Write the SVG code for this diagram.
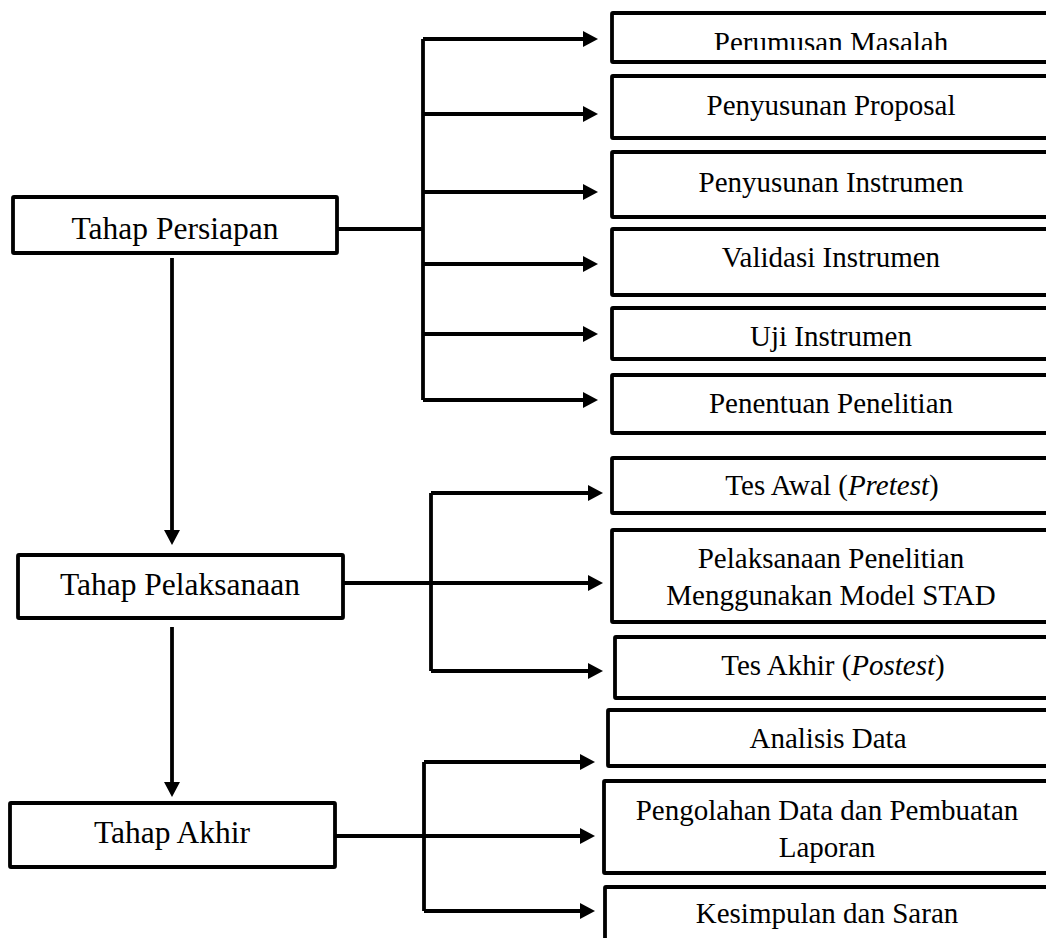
<svg xmlns="http://www.w3.org/2000/svg" width="1046" height="938" viewBox="0 0 1046 938">
<style>
.box{fill:#fff;stroke:#000;stroke-width:3.8}
.ln{fill:none;stroke:#000;stroke-width:3.8}
.arr{fill:none;stroke:#000;stroke-width:3.8;marker-end:url(#ah)}
.tl{font-family:"Liberation Serif","Times New Roman",serif;font-size:31.5px;fill:#000;text-anchor:middle}
.tr{font-family:"Liberation Serif","Times New Roman",serif;font-size:29px;fill:#000;text-anchor:middle}
</style>
<defs>
<marker id="ah" markerUnits="userSpaceOnUse" markerWidth="17" markerHeight="17" refX="1" refY="8" orient="auto">
<path d="M0,0 L15,8 L0,16 z" fill="#000"/>
</marker>
<clipPath id="c1"><rect x="612" y="13" width="440" height="37"/></clipPath>
</defs>
<rect width="1046" height="938" fill="#fff"/>
<g id="connectors">
<line class="arr" x1="172" y1="258" x2="172" y2="531"/>
<line class="arr" x1="172" y1="627" x2="172" y2="783"/>
<polyline class="ln" points="337,229 423,229"/>
<line class="ln" x1="423" y1="39" x2="423" y2="400"/>
<line class="arr" x1="423" y1="39" x2="584" y2="39"/>
<line class="arr" x1="423" y1="114" x2="584" y2="114"/>
<line class="arr" x1="423" y1="192" x2="584" y2="192"/>
<line class="arr" x1="423" y1="264" x2="584" y2="264"/>
<line class="arr" x1="423" y1="334" x2="584" y2="334"/>
<line class="arr" x1="423" y1="400" x2="584" y2="400"/>
<line class="ln" x1="431" y1="493" x2="431" y2="671"/>
<line class="arr" x1="431" y1="493" x2="589" y2="493"/>
<line class="arr" x1="343" y1="583" x2="589" y2="583"/>
<line class="arr" x1="431" y1="671" x2="589" y2="671"/>
<line class="ln" x1="424" y1="762" x2="424" y2="911"/>
<line class="arr" x1="424" y1="762" x2="581" y2="762"/>
<line class="arr" x1="335" y1="836" x2="581" y2="836"/>
<line class="arr" x1="424" y1="911" x2="581" y2="911"/>
</g>
<g id="tahap-persiapan"><rect class="box" x="13" y="197" width="324" height="56" rx="1"/><text class="tl" x="175" y="239">Tahap Persiapan</text></g>
<g id="tahap-pelaksanaan"><rect class="box" x="18" y="555" width="325" height="63" rx="1"/><text class="tl" x="180" y="595">Tahap Pelaksanaan</text></g>
<g id="tahap-akhir"><rect class="box" x="10" y="803" width="325" height="64" rx="1"/><text class="tl" x="172" y="843">Tahap Akhir</text></g>
<g id="perumusan-masalah"><rect class="box" x="612" y="13" width="450" height="49" rx="1"/><text class="tr" x="831" y="52" clip-path="url(#c1)">Perumusan Masalah</text></g>
<g id="penyusunan-proposal"><rect class="box" x="612" y="76" width="450" height="62" rx="1"/><text class="tr" x="831" y="115">Penyusunan Proposal</text></g>
<g id="penyusunan-instrumen"><rect class="box" x="612" y="152" width="450" height="65" rx="1"/><text class="tr" x="831" y="192">Penyusunan Instrumen</text></g>
<g id="validasi-instrumen"><rect class="box" x="612" y="229" width="450" height="66" rx="1"/><text class="tr" x="831" y="267">Validasi Instrumen</text></g>
<g id="uji-instrumen"><rect class="box" x="612" y="308" width="450" height="51" rx="1"/><text class="tr" x="831" y="346">Uji Instrumen</text></g>
<g id="penentuan-penelitian"><rect class="box" x="612" y="375" width="450" height="58" rx="1"/><text class="tr" x="831" y="413">Penentuan Penelitian</text></g>
<g id="tes-awal"><rect class="box" x="612" y="458" width="450" height="55" rx="1"/><text class="tr" x="832" y="495">Tes Awal (<tspan font-style="italic">Pretest</tspan>)</text></g>
<g id="pelaksanaan-penelitian"><rect class="box" x="612" y="530" width="450" height="92" rx="1"/><text class="tr" x="831" y="568">Pelaksanaan Penelitian</text><text class="tr" x="831" y="605">Menggunakan Model STAD</text></g>
<g id="tes-akhir"><rect class="box" x="615" y="637" width="450" height="61" rx="1"/><text class="tr" x="833" y="675">Tes Akhir (<tspan font-style="italic">Postest</tspan>)</text></g>
<g id="analisis-data"><rect class="box" x="608" y="710" width="450" height="56" rx="1"/><text class="tr" x="828" y="748">Analisis Data</text></g>
<g id="pengolahan-data"><rect class="box" x="604" y="781" width="450" height="92" rx="1"/><text class="tr" x="827" y="820">Pengolahan Data dan Pembuatan</text><text class="tr" x="827" y="857">Laporan</text></g>
<g id="kesimpulan-saran"><rect class="box" x="605" y="887" width="450" height="70" rx="1"/><text class="tr" x="827" y="923">Kesimpulan dan Saran</text></g>
</svg>
